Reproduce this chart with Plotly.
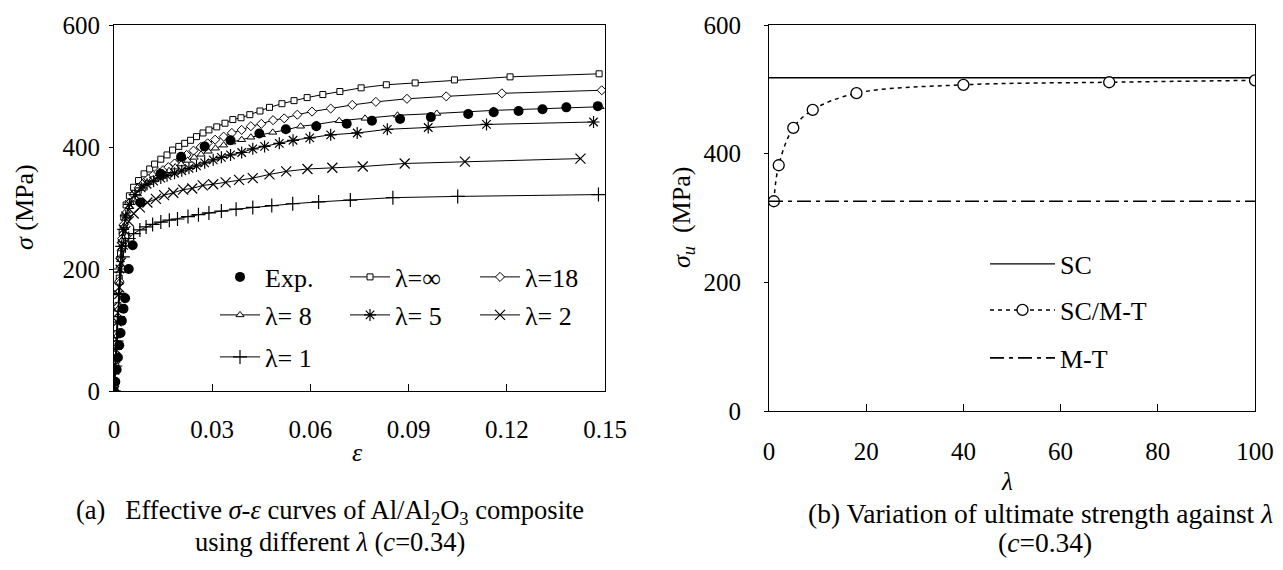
import plotly.graph_objects as go

# the page body adds an 8px offset; lay out in screen pixels and convert
OFF = 8
W, H = 1283 - OFF, 570 - OFF
FONT = "Liberation Serif"

# ---------------- data: panel (a) ----------------
exp_strain = [0, 0.0004, 0.0008, 0.0012, 0.0016, 0.002, 0.0024, 0.0029, 0.0034, 0.0045, 0.0057,
              0.0081, 0.0142, 0.0205, 0.0277, 0.0356, 0.0444, 0.0525, 0.0618, 0.0711, 0.0788,
              0.0874, 0.0968, 0.1082, 0.1160, 0.1236, 0.1309, 0.1382, 0.1478]
exp_stress = [0, 15, 35, 55, 75, 95, 115, 135, 152, 200, 239,
              309, 356, 384, 401, 411, 422, 429, 434, 438, 443,
              446, 449, 454, 457, 459, 462, 465, 467]

inf_strain = [0, 0.0004, 0.0008, 0.0012, 0.0016, 0.002, 0.0025, 0.003, 0.0037, 0.0047, 0.006,
              0.0075, 0.0092, 0.0109, 0.0124, 0.0143, 0.0162, 0.0179, 0.0198, 0.0216, 0.0234,
              0.0252, 0.0272, 0.029, 0.0314, 0.0339, 0.0363, 0.0388, 0.0415, 0.0446, 0.0475,
              0.0513, 0.0550, 0.0590, 0.0638, 0.0690, 0.0755, 0.0832, 0.0920, 0.1040, 0.1210, 0.1482]
inf_stress = [0, 47, 94, 140, 185, 225, 260, 285, 305, 320, 334,
              345, 356, 364, 372, 380, 387, 395, 401, 406, 411,
              417, 423, 428, 433, 439, 445, 448, 453, 459, 465,
              471, 476, 481, 486, 491, 497, 502, 505, 510, 515, 520]

l18_strain = [0, 0.0004, 0.0008, 0.0012, 0.0016, 0.002, 0.0025, 0.003, 0.0037, 0.0047, 0.006,
              0.0075, 0.009, 0.0105, 0.012, 0.0135, 0.015, 0.0166, 0.0185, 0.0203, 0.0222,
              0.0243, 0.0265, 0.0286, 0.0309, 0.0335, 0.036, 0.039, 0.0418, 0.045, 0.0486,
              0.0520, 0.0560, 0.0605, 0.0662, 0.0728, 0.0800, 0.0895, 0.1015, 0.1185, 0.1490]
l18_stress = [0, 47, 93, 138, 180, 217, 250, 273, 292, 308, 322,
              333, 341, 348, 354, 359, 362, 367, 373, 380, 387,
              394, 400, 406, 412, 417, 423, 428, 434, 438, 444,
              447, 453, 458, 463, 469, 474, 479, 483, 488, 493]

l8_strain = [0, 0.0004, 0.0008, 0.0012, 0.0016, 0.002, 0.0024, 0.003, 0.0038, 0.0048, 0.006,
             0.0072, 0.0086, 0.0101, 0.0117, 0.0133, 0.015, 0.0168, 0.0187, 0.0205, 0.0225,
             0.0245, 0.0266, 0.0288, 0.031, 0.0335, 0.036, 0.039, 0.0418, 0.045, 0.0485,
             0.0526, 0.0570, 0.0619, 0.0688, 0.0767, 0.0866, 0.0986, 0.1159, 0.1485]
l8_stress = [0, 45, 90, 134, 178, 215, 247, 270, 287, 302, 314,
             323, 332, 341, 347, 352, 357, 361, 367, 372, 378,
             383, 388, 393, 398, 403, 408, 412, 416, 420, 424,
             428, 434, 437, 443, 447, 452, 455, 460, 466]

l5_strain = [0, 0.0003, 0.0006, 0.001, 0.0014, 0.0018, 0.0022, 0.0028, 0.0036, 0.0047, 0.0064,
             0.0083, 0.0101, 0.0121, 0.0143, 0.0162, 0.0185, 0.0207, 0.0229, 0.0252, 0.0277,
             0.0303, 0.0328, 0.0356, 0.039, 0.0424, 0.046, 0.0505, 0.0547, 0.0598, 0.0662,
             0.0743, 0.0835, 0.0960, 0.1138, 0.1465]
l5_stress = [0, 34, 68, 113, 158, 200, 237, 265, 287, 306, 322,
             333, 339, 344, 349, 353, 357, 361, 365, 369, 374,
             379, 383, 387, 391, 397, 401, 406, 411, 415, 420,
             423, 429, 432, 437, 441]

l2_strain = [0, 0.0004, 0.0008, 0.0012, 0.0016, 0.0021, 0.0027, 0.0035, 0.0045, 0.006, 0.0079,
             0.0102, 0.0128, 0.0153, 0.0181, 0.0211, 0.0239, 0.0271, 0.0303, 0.0341, 0.0382,
             0.0424, 0.0475, 0.0526, 0.0591, 0.0667, 0.0760, 0.0888, 0.1072, 0.1425]
l2_stress = [0, 43, 85, 128, 170, 210, 240, 262, 278, 291, 301,
             309, 315, 321, 325, 330, 332, 337, 339, 342, 346,
             349, 355, 360, 364, 366, 368, 373, 376, 381]

l1_strain = [0, 0.0004, 0.0008, 0.0012, 0.0016, 0.0021, 0.0027, 0.0035, 0.0045, 0.006, 0.0079,
             0.0098, 0.0118, 0.0143, 0.0169, 0.0194, 0.0226, 0.0258, 0.029, 0.0328, 0.0373,
             0.0424, 0.0482, 0.0546, 0.0625, 0.0722, 0.0852, 0.1050, 0.1480]
l1_stress = [0, 41, 82, 122, 160, 195, 220, 238, 250, 258, 264,
             269, 273, 277, 280, 282, 286, 289, 292, 295, 298,
             301, 304, 307, 310, 313, 317, 319, 322]

# ---------------- data: panel (b) ----------------
lam_vals = [1, 2, 5, 9, 18, 40, 70, 100]
scmt_vals = [326, 382, 440, 468, 494, 507, 511, 514]
sc_x = [0, 100]
sc_vals = [518, 518]
mt_x = [0, 100]
mt_vals = [326, 326]

fig = go.Figure()

def px_x(p):
    return (p - OFF) / W

def px_y(p):
    return 1 - (p - OFF) / H

model_series = [
    ("λ=∞", inf_strain, inf_stress, dict(symbol="square", size=6, color="white", line=dict(color="black", width=1)), "legend2"),
    ("λ=18", l18_strain, l18_stress, dict(symbol="diamond", size=7, color="white", line=dict(color="black", width=1)), "legend3"),
    ("λ= 8", l8_strain, l8_stress, dict(symbol="triangle-up", size=7, color="white", line=dict(color="black", width=1)), "legend4"),
    ("λ= 5", l5_strain, l5_stress, dict(symbol="asterisk-open", size=10, color="black", line=dict(color="black", width=1.2)), "legend5"),
    ("λ= 2", l2_strain, l2_stress, dict(symbol="x-thin-open", size=10, color="black", line=dict(color="black", width=1.2)), "legend6"),
    ("λ= 1", l1_strain, l1_stress, dict(symbol="cross-thin-open", size=10, color="black", line=dict(color="black", width=1.2)), "legend7"),
]
for name, xs, ys, mk, lg in model_series:
    fig.add_trace(go.Scatter(x=xs, y=ys, name=name, mode="lines+markers",
                             line=dict(color="black", width=1), marker=mk,
                             xaxis="x", yaxis="y", legend=lg, showlegend=True))

fig.add_trace(go.Scatter(x=exp_strain, y=exp_stress, name="Exp.", mode="markers",
                         marker=dict(symbol="circle", size=10, color="black"),
                         xaxis="x", yaxis="y", legend="legend11", showlegend=True))

fig.add_trace(go.Scatter(x=sc_x, y=sc_vals, name="SC", mode="lines",
                         line=dict(color="black", width=1.3), xaxis="x2", yaxis="y2",
                         legend="legend8", showlegend=True))
fig.add_trace(go.Scatter(x=lam_vals, y=scmt_vals, name="SC/M-T", mode="lines+markers",
                         line=dict(color="black", width=1.5, dash="4px,4px", shape="spline"),
                         marker=dict(symbol="circle", size=11, color="white", line=dict(color="black", width=1.3)),
                         xaxis="x2", yaxis="y2", legend="legend9", showlegend=True))
fig.add_trace(go.Scatter(x=mt_x, y=mt_vals, name="M-T", mode="lines",
                         line=dict(color="black", width=1.6, dash="14px,5px,4px,5px"),
                         xaxis="x2", yaxis="y2", legend="legend10", showlegend=True))

TICK = 25
axis_common = dict(showline=True, mirror=True, linecolor="black", linewidth=1,
                   showgrid=False, zeroline=False, tickcolor="black", automargin=False,
                   tickfont=dict(family=FONT, size=TICK, color="black"))

fig.update_layout(
    template="none",
    width=W, height=H, margin=dict(l=0, r=0, t=0, b=0, pad=0, autoexpand=False),
    paper_bgcolor="white", plot_bgcolor="white", showlegend=True,
    font=dict(family=FONT, size=25, color="black"),
    xaxis=dict(domain=[px_x(114), px_x(605)], range=[0, 0.15],
               tickvals=[0, 0.03, 0.06, 0.09, 0.12, 0.15],
               ticktext=["0", "0.03", "0.06", "0.09", "0.12", "0.15"],
               ticks="inside", ticklen=7, ticklabelstandoff=16, anchor="y", **axis_common),
    yaxis=dict(domain=[px_y(391), px_y(25)], range=[0, 600], tickvals=[0, 200, 400, 600],
               ticks="outside", ticklen=4, ticklabelstandoff=4, anchor="x", **axis_common),
    xaxis2=dict(domain=[px_x(769), px_x(1255)], range=[0, 100], tickvals=[0, 20, 40, 60, 80, 100],
                ticks="inside", ticklen=7, ticklabelstandoff=18, anchor="y2", **axis_common),
    yaxis2=dict(domain=[px_y(411), px_y(25)], range=[0, 600], tickvals=[0, 200, 400, 600],
                ticks="outside", ticklen=4, ticklabelstandoff=18, anchor="x2", **axis_common),
)

LEGF = 26
def leg(xp, yp, iw):
    return dict(x=px_x(xp), y=px_y(yp), xanchor="left", yanchor="middle",
                bgcolor="rgba(0,0,0,0)", borderwidth=0, itemwidth=iw, visible=True,
                font=dict(family=FONT, size=LEGF, color="black"), orientation="v",
                itemclick=False, itemdoubleclick=False)

# screen positions of legend boxes (left edge, vertical centre)
rows = [277, 315, 357]
cols = [215, 345, 475]
fig.update_layout(
    legend11=leg(cols[0], rows[0], 40),
    legend2=leg(cols[1], rows[0], 40),
    legend3=leg(cols[2], rows[0], 40),
    legend4=leg(cols[0], rows[1], 40),
    legend5=leg(cols[1], rows[1], 40),
    legend6=leg(cols[2], rows[1], 40),
    legend7=leg(cols[0], rows[2], 40),
    legend8=leg(985, 264, 65),
    legend9=leg(985, 310, 65),
    legend10=leg(985, 358, 65),
)

ann = []
def add_ann(text, xp, yp, angle=0, size=26):
    ann.append(dict(text=text, x=px_x(xp), y=px_y(yp), xref="paper", yref="paper",
                    showarrow=False, xanchor="center", yanchor="middle", textangle=angle,
                    font=dict(family=FONT, size=size, color="black")))

add_ann("<i>σ</i> (MPa)", 24, 207, angle=-90)
add_ann("<i>ε</i>", 357, 453)
add_ann("<i>σ<sub>u</sub></i>  (MPa)", 683, 218, angle=-90)
add_ann("<i>λ</i>", 1007, 481, size=25)
add_ann("(a)   Effective <i>σ</i>-<i>ε</i> curves of Al/Al<sub>2</sub>O<sub>3</sub> composite", 330, 512, size=26.5)
add_ann("using different <i>λ</i> (<i>c</i>=0.34)", 330, 542, size=26.5)
add_ann("(b) Variation of ultimate strength against <i>λ</i>", 1040, 513, size=27.5)
add_ann("(<i>c</i>=0.34)", 1045, 542, size=27.5)
fig.update_layout(annotations=ann)

fig.write_html("out.html")
